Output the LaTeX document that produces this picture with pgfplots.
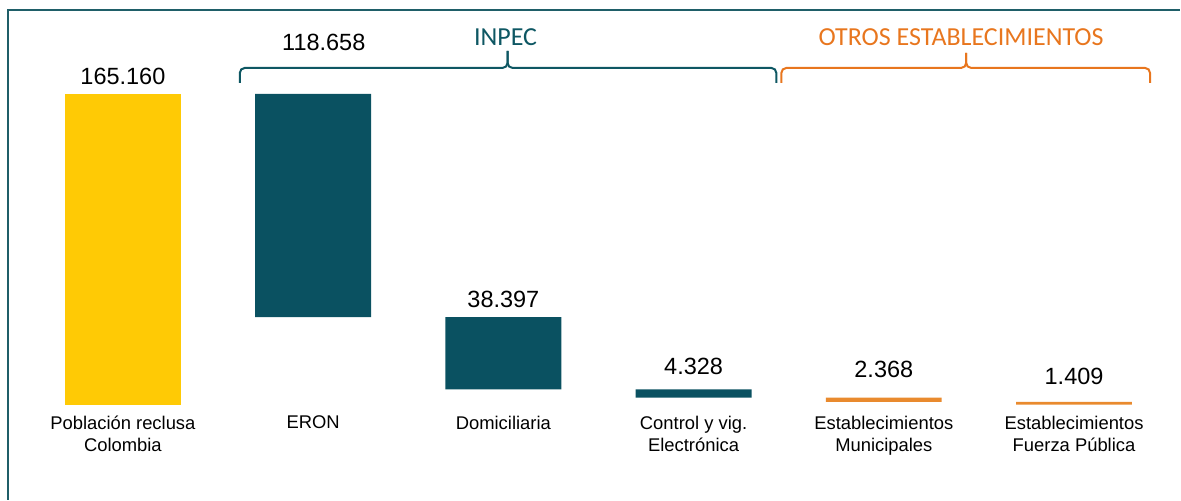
\documentclass[border=0pt]{standalone}
\usepackage{pgfplots}
\pgfplotsset{compat=1.18}
\usepackage{fontspec}
\setmainfont{Liberation Sans}
\newfontfamily\calibri{Carlito}
\definecolor{cyellow}{HTML}{FFCA05}
\definecolor{cteal}{HTML}{0A5161}
\definecolor{corange}{HTML}{E98A2E}
\definecolor{bteal}{HTML}{0E5763}
\definecolor{borange}{HTML}{E8761E}
\definecolor{frame}{HTML}{1F5E68}
\tikzset{vlab/.style={font=\fontsize{11.75}{14}\selectfont}}
\begin{document}
\begin{tikzpicture}
\begin{axis}[name=ax,
  scale only axis, width=590.5pt, height=250pt,
  xmin=-0.646, xmax=5.557, ymin=-50452, ymax=215084,
  axis y line=none, axis x line=middle,
  x axis line style={draw=none,-},
  xtick={0,1,2,3,4,5}, major tick length=0pt,
  xticklabels={{Población reclusa\\Colombia},{ERON},{Domiciliaria},{Control y vig.\\Electrónica},{Establecimientos\\Municipales},{Establecimientos\\Fuerza Pública}},
  xticklabel style={align=center, font=\fontsize{9.2}{11}\selectfont, yshift=-2pt},
  ybar stacked, bar width=0.609,
  clip=false]
\addplot[fill=white, draw=none, opacity=0] coordinates {(0,0) (1,46502) (2,8105) (3,3777) (4,1409) (5,0)};
\addplot[fill=cyellow, draw=none] coordinates {(0,165160) (1,0) (2,0) (3,0) (4,0) (5,0)};
\addplot[fill=cteal, draw=none] coordinates {(0,0) (1,118658) (2,38397) (3,4328) (4,0) (5,0)};
\addplot[fill=corange, draw=none] coordinates {(0,0) (1,0) (2,0) (3,0) (4,2368) (5,1409)};
\node[vlab] at (axis cs:0,174722) {165.160};
\node[vlab] at (axis cs:1.056,192778) {118.658};
\node[vlab] at (axis cs:2,55762) {38.397};
\node[vlab] at (axis cs:3,20181) {4.328};
\node[vlab] at (axis cs:4,18587) {2.368};
\node[vlab] at (axis cs:5,14870) {1.409};
\end{axis}
\begin{scope}[shift={(ax.north west)}, x=0.5pt, y=-0.5pt]
\path (0,0) rectangle (1181,500);
\draw[frame, line width=1pt] (8,500) -- (8,10) -- (1181,10);
\draw[bteal, line width=1pt, rounded corners=2.5pt] (240,83) -- (240,68) -- (508,68) -- (508,51);
\draw[bteal, line width=1pt, rounded corners=2.5pt] (777,83) -- (777,68) -- (508,68) -- (508,51);
\draw[borange, line width=1pt, rounded corners=2.5pt] (782,83) -- (782,68) -- (967,68) -- (967,53);
\draw[borange, line width=1pt, rounded corners=2.5pt] (1151,83) -- (1151,68) -- (967,68) -- (967,53);
\node[text=bteal, font=\calibri\fontsize{13}{15}\selectfont] at (506,37) {INPEC};
\node[text=borange, font=\calibri\fontsize{13}{15}\selectfont] at (962,37) {OTROS ESTABLECIMIENTOS};
\end{scope}
\end{tikzpicture}
\end{document}
